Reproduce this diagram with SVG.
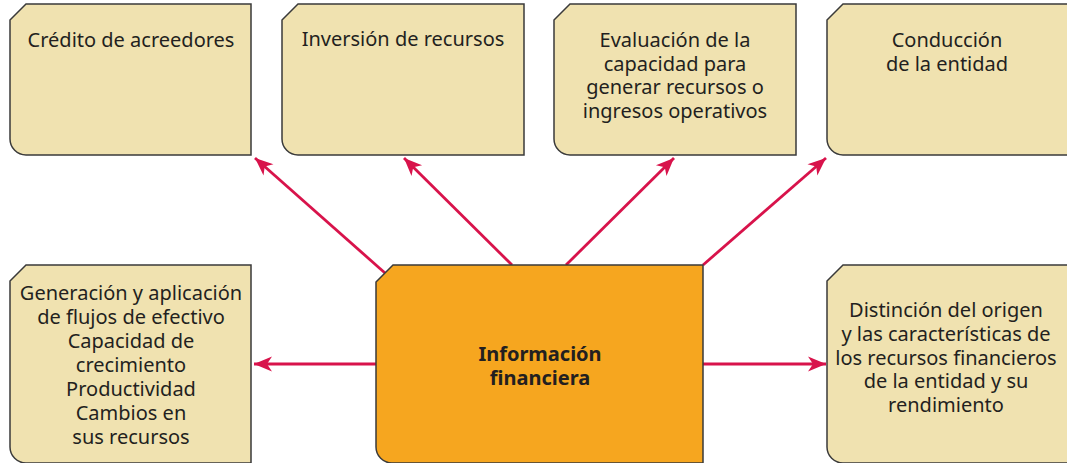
<svg xmlns="http://www.w3.org/2000/svg" width="1067" height="463" viewBox="0 0 1067 463">
<defs>
<style>
.box{fill:#f0e2b0;stroke:#3a3a3a;stroke-width:1.5}
.main{fill:#f6a61f;stroke:#3a3a3a;stroke-width:1.5}
.t{font-family:"Noto Sans","Liberation Sans",sans-serif;font-size:20px;fill:#231f20;text-anchor:middle}
.b{font-weight:bold}
.c{fill:none;stroke:#d8134b;stroke-width:2.8;marker-end:url(#ah)}
</style>
<marker id="ah" markerUnits="userSpaceOnUse" markerWidth="24" markerHeight="20" viewBox="-20 -10 24 20" refX="0" refY="0" orient="auto">
<path d="M0,0 L-18,-7.5 L-13,0 L-18,7.5 Z" fill="#d8134b"/>
</marker>
</defs>
<g id="connectors">
<line class="c" x1="385" y1="273" x2="255" y2="158"/>
<line class="c" x1="512" y1="265" x2="404" y2="158"/>
<line class="c" x1="566" y1="265" x2="674" y2="158"/>
<line class="c" x1="703" y1="265" x2="826" y2="158"/>
<line class="c" x1="376" y1="364" x2="254" y2="364"/>
<line class="c" x1="703" y1="364" x2="826" y2="364"/>
</g>
<g id="n1">
<path class="box" d="M10,20 L26,4 L251,4 L251,155 L26,155 A16,16 0 0 1 10,139 Z"/>
<text class="t" x="131" y="47">Crédito de acreedores</text>
</g>
<g id="n2">
<path class="box" d="M282,20 L298,4 L524,4 L524,155 L298,155 A16,16 0 0 1 282,139 Z"/>
<text class="t" x="403" y="46">Inversión de recursos</text>
</g>
<g id="n3">
<path class="box" d="M554,20 L570,4 L796,4 L796,155 L570,155 A16,16 0 0 1 554,139 Z"/>
<text class="t" x="675"><tspan x="675" y="47">Evaluación de la</tspan><tspan x="675" y="70.5">capacidad para</tspan><tspan x="675" y="94">generar recursos o</tspan><tspan x="675" y="117.5">ingresos operativos</tspan></text>
</g>
<g id="n4">
<path class="box" d="M827,20 L843,4 L1075,4 L1075,155 L843,155 A16,16 0 0 1 827,139 Z"/>
<text class="t" x="947"><tspan x="947" y="47">Conducción</tspan><tspan x="947" y="70.5">de la entidad</tspan></text>
</g>
<g id="n5">
<path class="box" d="M10,281 L26,265 L251,265 L251,463 L26,463 A16,16 0 0 1 10,447 Z"/>
<text class="t"><tspan x="131" y="300">Generación y aplicación</tspan><tspan x="131" y="324">de flujos de efectivo</tspan><tspan x="131" y="348">Capacidad de</tspan><tspan x="131" y="372">crecimiento</tspan><tspan x="131" y="396">Productividad</tspan><tspan x="131" y="420">Cambios en</tspan><tspan x="131" y="444">sus recursos</tspan></text>
</g>
<g id="n6">
<path class="main" d="M376,282 L393,265 L703,265 L703,463 L392,463 A16,16 0 0 1 376,447 Z"/>
<text class="t b"><tspan x="540" y="361">Información</tspan><tspan x="540" y="384.5">financiera</tspan></text>
</g>
<g id="n7">
<path class="box" d="M827,281 L843,265 L1075,265 L1075,463 L843,463 A16,16 0 0 1 827,447 Z"/>
<text class="t"><tspan x="946" y="317">Distinción del origen</tspan><tspan x="946" y="340.5">y las características de</tspan><tspan x="946" y="364.5">los recursos financieros</tspan><tspan x="946" y="388">de la entidad y su</tspan><tspan x="946" y="412">rendimiento</tspan></text>
</g>
</svg>
